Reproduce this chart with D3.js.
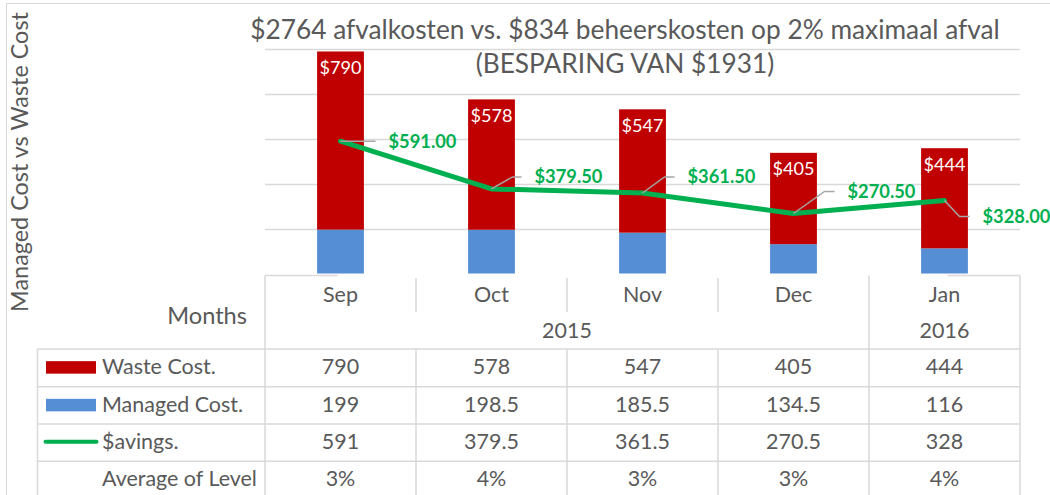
<!DOCTYPE html>
<html>
<head>
<meta charset="utf-8">
<script src="https://cdn.jsdelivr.net/npm/d3@7"></script>
<style>
  body { margin: 0; background: #fff; }
  svg { display: block; font-family: Lato, "Open Sans", sans-serif; }
</style>
</head>
<body>
<svg id="chart" width="1050" height="495"></svg>
<script>
// data
let months = ["Sep", "Oct", "Nov", "Dec", "Jan"];
let years = [{label: "2015", from: 0, to: 3}, {label: "2016", from: 4, to: 4}];
let wasteCost = [790, 578, 547, 405, 444];
let managedCost = [199, 198.5, 185.5, 134.5, 116];
let savings = [591, 379.5, 361.5, 270.5, 328];
let avgLevel = ["3%", "4%", "3%", "3%", "4%"];
let yTicks = [200, 400, 600, 800, 1000];

let titleLine1 = "$2764 afvalkosten vs. $834 beheerskosten op 2% maximaal afval";
let titleLine2 = "(BESPARING VAN $1931)";

// label leader layout for savings labels: [elbowDx, elbowDy, endDx, labelDx]
let leader = [[0, 0, 35, 48], [21, -12, 30, 43], [22, -16, 32, 45], [31, -22, 41, 54], [15, 16, 25, 38]];

let red = "#c00000", blue = "#558ed5", green = "#00b050", grey = "#595959", rule = "#d9d9d9";

let svg = d3.select("#chart");

// plot area
let plotL = 265, plotR = 1020, plotT = 49, plotB = 274.5;

let x = d3.scaleBand().domain(months).range([plotL, plotR]).padding(0);
let y = d3.scaleLinear().domain([0, 1000]).range([plotB, plotT]);
let cx = (m) => x(m) + x.bandwidth() / 2;
let barW = x.bandwidth() * 0.31;

// helper: find a font size so text fits a given width
function fitSize(text, width, weight) {
    let t = svg.append("text").attr("font-size", 100).attr("font-weight", weight || "normal").text(text);
    let w = t.node().getComputedTextLength();
    t.remove();
    return 100 * width / w;
}

// outer border
svg.append("rect")
    .attr("x", 6.5).attr("y", 3.5)
    .attr("width", 1100).attr("height", 600)
    .attr("fill", "none").attr("stroke", rule);

// gridlines
svg.append("g")
    .selectAll("line")
    .data(yTicks)
    .enter().append("line")
    .attr("x1", plotL).attr("x2", plotR)
    .attr("y1", (d) => Math.round(y(d)) + 0.5)
    .attr("y2", (d) => Math.round(y(d)) + 0.5)
    .attr("stroke", rule).attr("stroke-width", 1.5);

// titles
let tSize = fitSize(titleLine1, 750);
svg.append("text")
    .attr("x", 625).attr("y", 30).attr("dy", "0.35em")
    .attr("text-anchor", "middle")
    .attr("font-size", tSize).attr("fill", grey)
    .text(titleLine1);
svg.append("text")
    .attr("x", 625).attr("y", 64).attr("dy", "0.35em")
    .attr("text-anchor", "middle")
    .attr("font-size", tSize).attr("fill", grey)
    .text(titleLine2);

let ySize = fitSize("Managed Cost vs Waste Cost", 300);
svg.append("text")
    .attr("transform", "translate(20,162) rotate(-90)")
    .attr("dy", "0.35em")
    .attr("text-anchor", "middle")
    .attr("font-size", ySize).attr("fill", grey)
    .text("Managed Cost vs Waste Cost");

// stacked bars
let bars = svg.append("g");
bars.selectAll("rect.managed")
    .data(months)
    .enter().append("rect")
    .attr("class", "managed")
    .attr("x", (m) => cx(m) - barW / 2)
    .attr("width", barW)
    .attr("y", (m, i) => y(managedCost[i]))
    .attr("height", (m, i) => y(0) - y(managedCost[i]) - 1)
    .attr("fill", blue);

bars.selectAll("rect.waste")
    .data(months)
    .enter().append("rect")
    .attr("class", "waste")
    .attr("x", (m) => cx(m) - barW / 2)
    .attr("width", barW)
    .attr("y", (m, i) => y(managedCost[i] + wasteCost[i]))
    .attr("height", (m, i) => y(managedCost[i]) - y(managedCost[i] + wasteCost[i]))
    .attr("fill", red);

let barLblSize = fitSize("$790", 42);
bars.selectAll("text")
    .data(months)
    .enter().append("text")
    .attr("x", (m) => cx(m))
    .attr("y", (m, i) => y(managedCost[i] + wasteCost[i]) + 16)
    .attr("dy", "0.35em")
    .attr("text-anchor", "middle")
    .attr("font-size", barLblSize)
    .attr("fill", "#fff")
    .text((m, i) => "$" + wasteCost[i]);

// savings line
let line = d3.line()
    .x((d, i) => cx(months[i]))
    .y((d) => y(d));

svg.append("path")
    .datum(savings)
    .attr("d", line)
    .attr("fill", "none")
    .attr("stroke", green)
    .attr("stroke-width", 5)
    .attr("stroke-linejoin", "round")
    .attr("stroke-linecap", "round");

// savings labels with leader lines
let savLblSize = fitSize("$591.00", 68, "bold");
let savG = svg.append("g");
savings.forEach((v, i) => {
    let px = cx(months[i]), py = y(v);
    let [ex, ey, endX, lx] = leader[i];
    let pts = ex === 0 && ey === 0
        ? [[px, py], [px + endX, py]]
        : [[px, py], [px + ex, py + ey], [px + endX, py + ey]];
    savG.append("path")
        .attr("d", d3.line()(pts))
        .attr("fill", "none")
        .attr("stroke", "#a6a6a6")
        .attr("stroke-width", 1.5);
    savG.append("text")
        .attr("x", px + lx).attr("y", py + ey)
        .attr("dy", "0.35em")
        .attr("font-size", savLblSize)
        .attr("font-weight", "bold")
        .attr("fill", green)
        .text("$" + d3.format(".2f")(v));
});

// data table
let tbl = svg.append("g");
let tabLeft = 37.5, tabTop = 275.5, monthRowBottom = 312, yearY = 330;
let rowTops = [349, 386.7, 424, 461.3];
let rowH = 37.3;
let txtSize = fitSize("Average of Level", 155);

// horizontal rules
tbl.append("line").attr("x1", plotL).attr("x2", cx(months[0]) - 3)
    .attr("y1", tabTop).attr("y2", tabTop).attr("stroke", rule).attr("stroke-width", 1.5);
tbl.append("line").attr("x1", cx(months[4]) + 3).attr("x2", plotR)
    .attr("y1", tabTop).attr("y2", tabTop).attr("stroke", rule).attr("stroke-width", 1.5);
tbl.selectAll("line.row")
    .data(rowTops.concat([rowTops[3] + rowH]))
    .enter().append("line")
    .attr("x1", tabLeft).attr("x2", plotR)
    .attr("y1", (d) => d).attr("y2", (d) => d)
    .attr("stroke", rule).attr("stroke-width", 1.5);

// vertical rules
let vlines = [
    [plotL, tabTop, 495], [plotR, tabTop, 495], [tabLeft, rowTops[0], 495],
    [x("Jan"), tabTop, 495]
];
months.slice(1, 4).forEach((m) => {
    vlines.push([x(m), tabTop + 2.5, monthRowBottom]);
    vlines.push([x(m), rowTops[0], 495]);
});
tbl.selectAll("line.col")
    .data(vlines)
    .enter().append("line")
    .attr("x1", (d) => d[0]).attr("x2", (d) => d[0])
    .attr("y1", (d) => d[1]).attr("y2", (d) => d[2])
    .attr("stroke", rule).attr("stroke-width", 1.5);

// header texts
tbl.selectAll("text.month")
    .data(months)
    .enter().append("text")
    .attr("x", (m) => cx(m)).attr("y", 294).attr("dy", "0.35em")
    .attr("text-anchor", "middle")
    .attr("font-size", txtSize).attr("fill", grey)
    .text((m) => m);

tbl.selectAll("text.year")
    .data(years)
    .enter().append("text")
    .attr("x", (d) => (x(months[d.from]) + x(months[d.to]) + x.bandwidth()) / 2)
    .attr("y", yearY).attr("dy", "0.35em")
    .attr("text-anchor", "middle")
    .attr("font-size", txtSize).attr("fill", grey)
    .text((d) => d.label);

tbl.append("text")
    .attr("x", 247).attr("y", 316).attr("dy", "0.35em")
    .attr("text-anchor", "end")
    .attr("font-size", txtSize * 1.1).attr("fill", grey)
    .text("Months");

// rows
let rows = [
    {name: "Waste Cost.", values: wasteCost, key: "bar", color: red},
    {name: "Managed Cost.", values: managedCost, key: "bar", color: blue},
    {name: "$avings.", values: savings, key: "line", color: green},
    {name: "Average of Level", values: avgLevel, key: "none"}
];

rows.forEach((r, ri) => {
    let midY = rowTops[ri] + rowH / 2;
    if (r.key === "bar") {
        tbl.append("rect")
            .attr("x", 46).attr("y", midY - 6.5)
            .attr("width", 50).attr("height", 12.5)
            .attr("fill", r.color);
    } else if (r.key === "line") {
        tbl.append("line")
            .attr("x1", 45.5).attr("x2", 96.5)
            .attr("y1", midY - 1).attr("y2", midY - 1)
            .attr("stroke", r.color).attr("stroke-width", 4)
            .attr("stroke-linecap", "round");
    }
    tbl.append("text")
        .attr("x", 102).attr("y", midY - 1).attr("dy", "0.35em")
        .attr("font-size", txtSize).attr("fill", grey)
        .text(r.name);
    tbl.selectAll(null)
        .data(r.values)
        .enter().append("text")
        .attr("x", (v, i) => cx(months[i]))
        .attr("y", midY - 1).attr("dy", "0.35em")
        .attr("text-anchor", "middle")
        .attr("font-size", txtSize).attr("fill", grey)
        .text((v) => v);
});
</script>
</body>
</html>
